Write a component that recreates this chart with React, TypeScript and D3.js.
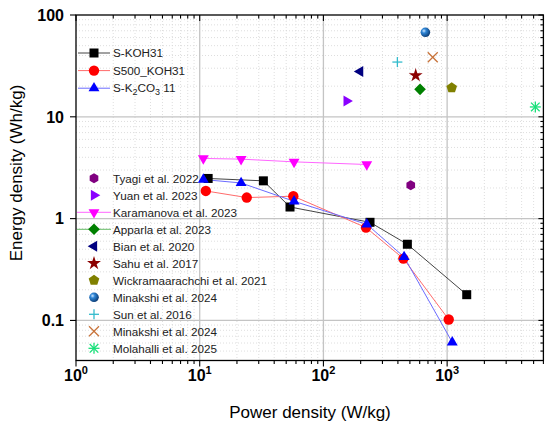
import React from "react";
import * as d3 from "d3";

// ---- data ----
const koh31Power = [11.7, 32.7, 53.7, 238, 477, 1440];
const koh31Energy = [2.48, 2.35, 1.3, 0.92, 0.56, 0.179];
const s500Power = [11.2, 24.0, 57.1, 221, 443, 1030];
const s500Energy = [1.87, 1.61, 1.66, 0.817, 0.405, 0.102];
const k2co3Power = [10.7, 21.6, 57.9, 224, 449, 1100];
const k2co3Energy = [2.42, 2.24, 1.48, 0.88, 0.42, 0.061];
const karamanovaPower = [10.7, 21.6, 57.9, 224];
const karamanovaEnergy = [3.9, 3.84, 3.61, 3.4];

const litNames = [
  "Tyagi et al. 2022",
  "Yuan et al. 2023",
  "Karamanova et al. 2023",
  "Apparla et al. 2023",
  "Bian et al. 2020",
  "Sahu et al. 2017",
  "Wickramaarachchi et al. 2021",
  "Minakshi et al. 2024",
  "Sun et al. 2016",
  "Minakshi et al. 2024",
  "Molahalli et al. 2025",
];
// null = series drawn as a line elsewhere (Karamanova)
const litPower = [508, 154, null, 604, 198, 557, 1089, 667, 396, 765, 5164];
const litEnergy = [2.13, 14.3, null, 18.6, 27.9, 25.5, 19.3, 67.6, 34.5, 38.4, 12.5];

const xTickValues = [1, 10, 100, 1000];
const xTickExp = ["0", "1", "2", "3"];
const yTickValues = [0.1, 1, 10, 100];
const yTickLabels = ["0.1", "1", "10", "100"];

// ---- styles ----
const litShapes = ["hexagon", "triRight", "triDown", "diamond", "triLeft", "star", "pentagon", "sphere", "plus", "cross", "asterisk"];
const litColors = ["#800080", "#8a00ff", "#ff00ff", "#008000", "#000080", "#8b0000", "#808000", "#1565c0", "#33bbcc", "#c8733a", "#19e07a"];

const W = 550, H = 430;
const L = 76, R = 543.4, T = 15, B = 360.5;

const x = d3.scaleLog().domain([1, 6000]).range([L, R]);
const y = d3.scaleLog().domain([0.0404, 100]).range([B, T]);

function poly(n: number, r: number, rot: number) {
  const pts: string[] = [];
  for (let i = 0; i < n; i++) {
    const a = rot + (i * 2 * Math.PI) / n;
    pts.push(`${(r * Math.cos(a)).toFixed(2)},${(r * Math.sin(a)).toFixed(2)}`);
  }
  return "M" + pts.join("L") + "Z";
}

function Marker({ shape, color, cx, cy }: { shape: string; color: string; cx: number; cy: number }) {
  const tr = `translate(${cx},${cy})`;
  switch (shape) {
    case "square":
      return <rect x={cx - 4.5} y={cy - 4.5} width={9} height={9} fill={color} />;
    case "circle":
      return <circle cx={cx} cy={cy} r={5.2} fill={color} />;
    case "triUp":
      return <path transform={tr} d={poly(3, 6.3, -Math.PI / 2)} fill={color} />;
    case "triDown":
      return <path transform={tr} d={poly(3, 6.3, Math.PI / 2)} fill={color} />;
    case "triLeft":
      return <path transform={tr} d={poly(3, 6.3, Math.PI)} fill={color} />;
    case "triRight":
      return <path transform={tr} d={poly(3, 6.3, 0)} fill={color} />;
    case "diamond":
      return <path transform={tr} d={poly(4, 5.8, 0)} fill={color} />;
    case "hexagon":
      return <path transform={tr} d={poly(6, 5, Math.PI / 2)} fill={color} />;
    case "pentagon":
      return <path transform={tr} d={poly(5, 5.6, -Math.PI / 2)} fill={color} />;
    case "star":
      return <path transform={tr} d={d3.symbol(d3.symbolStar, 60)() as string} fill={color} />;
    case "sphere":
      return <circle cx={cx} cy={cy} r={4.8} fill="url(#sphereGrad)" />;
    case "plus":
      return (
        <g transform={tr} stroke={color} strokeWidth={1.3}>
          <line x1={-5} y1={0} x2={5} y2={0} />
          <line x1={0} y1={-5} x2={0} y2={5} />
        </g>
      );
    case "cross":
      return (
        <g transform={tr} stroke={color} strokeWidth={1.3}>
          <line x1={-5} y1={-5} x2={5} y2={5} />
          <line x1={-5} y1={5} x2={5} y2={-5} />
        </g>
      );
    case "asterisk":
      return (
        <g transform={tr} stroke={color} strokeWidth={1.3}>
          <line x1={-5.5} y1={0} x2={5.5} y2={0} />
          <line x1={0} y1={-5.5} x2={0} y2={5.5} />
          <line x1={-4.3} y1={-4.3} x2={4.3} y2={4.3} />
          <line x1={-4.3} y1={4.3} x2={4.3} y2={-4.3} />
        </g>
      );
    default:
      return null;
  }
}

const mainSeries = [
  { name: "S-KOH31", p: koh31Power, e: koh31Energy, shape: "square", color: "#000000", line: "#444444" },
  { name: "S500_KOH31", p: s500Power, e: s500Energy, shape: "circle", color: "#ff0000", line: "#ff6b6b" },
  { name: "S-K2CO3 11", p: k2co3Power, e: k2co3Energy, shape: "triUp", color: "#0000ff", line: "#6b6bff" },
];

export default function App() {
  const line = d3
    .line<[number, number]>()
    .x((d) => x(d[0]))
    .y((d) => y(d[1]));

  // minor ticks
  const xMinor: number[] = [];
  for (let dec = 1; dec <= 1000; dec *= 10)
    for (let k = 2; k <= 9; k++) if (dec * k <= 6000) xMinor.push(dec * k);
  const yMinor: number[] = [];
  for (let dec = 0.01; dec <= 10.1; dec *= 10)
    for (let k = 2; k <= 9; k++) {
      const v = dec * k;
      if (v >= 0.0404 && v <= 100) yMinor.push(v);
    }

  const font = "'Liberation Sans', Arial, sans-serif";
  const legFont = 11.7;
  const rowY0 = 178.3;
  const rowStep = 17;

  return (
    <svg width={W} height={H} style={{ position: "absolute", left: 0, top: 0, background: "#fff" }} fontFamily={font}>
      <defs>
        <radialGradient id="sphereGrad" cx="35%" cy="35%" r="65%">
          <stop offset="0%" stopColor="#cfe6ff" />
          <stop offset="35%" stopColor="#2f86d6" />
          <stop offset="100%" stopColor="#0d3f7a" />
        </radialGradient>
        <clipPath id="plotClip">
          <rect x={L} y={T} width={R - L} height={B - T} />
        </clipPath>
      </defs>

      {/* minor grid */}
      <g stroke="#d6d6d6" strokeWidth={0.8} strokeDasharray="1 2">
        {xMinor.map((v, i) => (
          <line key={"xm" + i} x1={x(v)} x2={x(v)} y1={T} y2={B} />
        ))}
        {yMinor.map((v, i) => (
          <line key={"ym" + i} x1={L} x2={R} y1={y(v)} y2={y(v)} />
        ))}
      </g>
      {/* major grid */}
      <g stroke="#c4c4c4" strokeWidth={1.3}>
        {xTickValues.slice(1).map((v, i) => (
          <line key={"xg" + i} x1={x(v)} x2={x(v)} y1={T} y2={B} />
        ))}
        {yTickValues.slice(0, 3).map((v, i) => (
          <line key={"yg" + i} x1={L} x2={R} y1={y(v)} y2={y(v)} />
        ))}
      </g>

      {/* series lines */}
      <g clipPath="url(#plotClip)" fill="none" strokeWidth={1}>
        {mainSeries.map((s) => (
          <path key={s.name} d={line(s.p.map((p, i) => [p, s.e[i]] as [number, number])) as string} stroke={s.line} />
        ))}
        <path d={line(karamanovaPower.map((p, i) => [p, karamanovaEnergy[i]] as [number, number])) as string} stroke="#ff66ff" />
      </g>

      {/* markers */}
      <g>
        {mainSeries.map((s) =>
          s.p.map((p, i) => <Marker key={s.name + i} shape={s.shape} color={s.color} cx={x(p)} cy={y(s.e[i])} />)
        )}
        {karamanovaPower.map((p, i) => (
          <Marker key={"ka" + i} shape="triDown" color="#ff00ff" cx={x(p)} cy={y(karamanovaEnergy[i])} />
        ))}
        {litPower.map((p, i) =>
          p == null ? null : (
            <Marker key={"lit" + i} shape={litShapes[i]} color={litColors[i]} cx={x(p)} cy={y(litEnergy[i] as number)} />
          )
        )}
      </g>

      {/* axes frame */}
      <g stroke="#000" strokeWidth={1.3} fill="none">
        <rect x={L} y={T} width={R - L} height={B - T} />
      </g>
      <g stroke="#000" strokeWidth={1.1}>
        {xTickValues.map((v, i) => (
          <g key={"xt" + i}>
            <line x1={x(v)} x2={x(v)} y1={B} y2={B + 6} />
            <line x1={x(v)} x2={x(v)} y1={T} y2={T + 6} />
          </g>
        ))}
        {xMinor.map((v, i) => (
          <g key={"xmt" + i}>
            <line x1={x(v)} x2={x(v)} y1={B} y2={B + 3.5} />
            <line x1={x(v)} x2={x(v)} y1={T} y2={T + 3.5} />
          </g>
        ))}
        {yTickValues.map((v, i) => (
          <g key={"yt" + i}>
            <line x1={L - 6} x2={L} y1={y(v)} y2={y(v)} />
            <line x1={R - 5} x2={R} y1={y(v)} y2={y(v)} />
          </g>
        ))}
        {yMinor.map((v, i) => (
          <line key={"ymt" + i} x1={R - 3} x2={R} y1={y(v)} y2={y(v)} />
        ))}
      </g>

      {/* tick labels */}
      <g fontWeight="bold" fontSize={16} fill="#000">
        {yTickValues.map((v, i) => (
          <text key={"yl" + i} x={L - 12} y={y(v)} dy="0.36em" textAnchor="end">
            {yTickLabels[i]}
          </text>
        ))}
        {xTickValues.map((v, i) => (
          <text key={"xl" + i} x={x(v)} y={381} textAnchor="middle">
            10
            <tspan fontSize={11} dy={-7}>
              {xTickExp[i]}
            </tspan>
          </text>
        ))}
      </g>

      {/* axis titles */}
      <text x={310} y={418} textAnchor="middle" fontSize={17} fill="#000">
        Power density (W/kg)
      </text>
      <text transform={`translate(22,173) rotate(-90)`} textAnchor="middle" fontSize={17} fill="#000">
        Energy density (Wh/kg)
      </text>

      {/* legend 1 */}
      <g fontSize={legFont} fill="#222">
        {mainSeries.map((s, i) => {
          const yy = 53 + i * 17.6;
          return (
            <g key={"lg" + i}>
              <line x1={78} x2={110} y1={yy} y2={yy} stroke={s.line} strokeWidth={1} />
              <Marker shape={s.shape} color={s.color} cx={94} cy={yy} />
              {i < 2 ? (
                <text x={113} y={yy} dy="0.36em">
                  {s.name}
                </text>
              ) : (
                <text x={113} y={yy} dy="0.36em">
                  S-K<tspan fontSize={9} dy={3}>2</tspan>
                  <tspan dy={-3}>CO</tspan>
                  <tspan fontSize={9} dy={3}>3</tspan>
                  <tspan dy={-3}> 11</tspan>
                </text>
              )}
            </g>
          );
        })}
      </g>

      {/* legend 2 */}
      <g fontSize={legFont} fill="#222">
        {litNames.map((n, i) => {
          const yy = rowY0 + i * rowStep;
          const withLine = i === 2 || i === 3;
          const lc = i === 2 ? "#ff66ff" : "#66bb66";
          return (
            <g key={"l2" + i}>
              {withLine ? <line x1={77} x2={111} y1={yy} y2={yy} stroke={lc} strokeWidth={1} /> : null}
              <Marker shape={litShapes[i]} color={litColors[i]} cx={94} cy={yy} />
              <text x={113} y={yy} dy="0.36em">
                {n}
              </text>
            </g>
          );
        })}
      </g>
    </svg>
  );
}
